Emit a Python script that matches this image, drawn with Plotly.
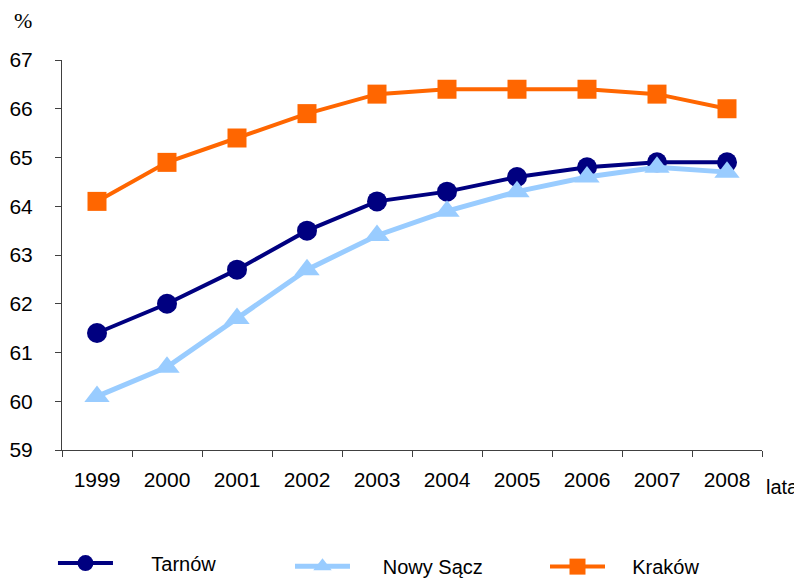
import plotly.graph_objects as go

years = ["1999", "2000", "2001", "2002", "2003", "2004", "2005", "2006", "2007", "2008"]
tarnow = [61.4, 62.0, 62.7, 63.5, 64.1, 64.3, 64.6, 64.8, 64.9, 64.9]
nowy_sacz = [60.1, 60.7, 61.7, 62.7, 63.4, 63.9, 64.3, 64.6, 64.8, 64.7]
krakow = [64.1, 64.9, 65.4, 65.9, 66.3, 66.4, 66.4, 66.4, 66.3, 66.0]

FONT = "Liberation Sans, Arial, sans-serif"
NB = "\u00a0"

fig = go.Figure()
fig.add_trace(go.Scatter(x=years, y=tarnow, name=NB * 6 + "Tarnów", mode="lines+markers",
                         line=dict(color="#000080", width=4),
                         marker=dict(symbol="circle", size=20, color="#000080"),
                         legend="legend"))
fig.add_trace(go.Scatter(x=years, y=nowy_sacz, name=NB * 5 + "Nowy Sącz", mode="lines+markers",
                         line=dict(color="#99CCFF", width=5),
                         marker=dict(symbol="triangle-up", size=22, color="#99CCFF"),
                         legend="legend2"))
fig.add_trace(go.Scatter(x=years, y=krakow, name=NB * 4 + "Kraków", mode="lines+markers",
                         line=dict(color="#FF6600", width=4),
                         marker=dict(symbol="square", size=19, color="#FF6600"),
                         legend="legend3"))

leg_common = dict(orientation="h", xanchor="left", yanchor="middle",
                  itemwidth=55, font=dict(size=20, family=FONT),
                  bgcolor="rgba(0,0,0,0)")

fig.update_layout(
    width=794, height=570,
    margin=dict(l=54, r=40, t=52, b=128, autoexpand=False),
    paper_bgcolor="white", plot_bgcolor="white",
    font=dict(family=FONT, size=21, color="black"),
    showlegend=True,
    legend=dict(x=-0.0129, y=-0.29, **leg_common),
    legend2=dict(x=0.3257, y=-0.298, **leg_common),
    legend3=dict(x=0.69, y=-0.299, **leg_common),
    xaxis=dict(type="category", range=[-0.5, 9.5], tickson="boundaries",
               ticks="outside", ticklen=6, tickcolor="#404040",
               showline=True, linecolor="#404040", linewidth=1,
               showgrid=False, zeroline=False, ticklabelstandoff=11,
               automargin=False, tickfont=dict(size=21)),
    yaxis=dict(range=[59, 67], dtick=1, ticks="outside", ticklen=6, tickcolor="#404040",
               showline=True, linecolor="#404040", linewidth=1,
               showgrid=False, zeroline=False, ticklabelstandoff=18,
               automargin=False, tickfont=dict(size=21)),
    annotations=[
        dict(text="%", x=-0.056, y=1.1, xref="paper", yref="paper", showarrow=False,
             xanchor="center", yanchor="middle",
             font=dict(family="Liberation Serif, Times New Roman, serif", size=22)),
        dict(text="lata", x=1.056, y=-0.095, xref="paper", yref="paper", showarrow=False,
             xanchor="right", yanchor="middle", font=dict(size=20)),
    ],
)

fig.write_html("out.html")
